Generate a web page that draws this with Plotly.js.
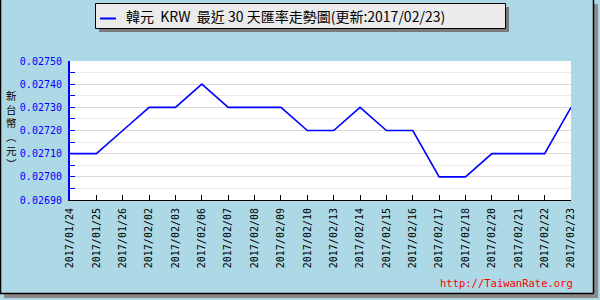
<!DOCTYPE html>
<html>
<head>
<meta charset="utf-8">
<script src="https://cdn.plot.ly/plotly-3.0.1.min.js"></script>
<style>html,body{margin:0;padding:0;background:#fff;}#chart{width:600px;height:300px;}</style>
</head>
<body>
<div id="chart"></div>
<script>
// ---- data ----
const dates = ["2017/01/24","2017/01/25","2017/01/26","2017/02/02","2017/02/03","2017/02/06","2017/02/07","2017/02/08","2017/02/09","2017/02/10","2017/02/13","2017/02/14","2017/02/15","2017/02/16","2017/02/17","2017/02/18","2017/02/20","2017/02/21","2017/02/22","2017/02/23"];
const rates = [0.02710,0.02710,0.02720,0.02730,0.02730,0.02740,0.02730,0.02730,0.02730,0.02720,0.02720,0.02730,0.02720,0.02720,0.02700,0.02700,0.02710,0.02710,0.02710,0.02730];
const seriesName = "韓元  KRW  最近 30 天匯率走勢圖(更新:2017/02/23)";
const yTitleChars = ["新","台","幣","︵","元","︶"];
const watermark = "http://TaiwanRate.org";

// ---- layout geometry (pixels) ----
const W = 600, H = 300, L = 70, R = 571, T = 61, B = 200;
const px = x => (x - L) / (R - L);
const py = y => (B - y) / (B - T);

const shapes = [
  // outer frame shadow
  {type:'rect', xref:'paper', yref:'paper', x0:px(4), x1:px(598), y0:py(294), y1:py(298), fillcolor:'#8a8a8a', line:{width:0}, layer:'below'},
  {type:'rect', xref:'paper', yref:'paper', x0:px(594), x1:px(598), y0:py(4), y1:py(298), fillcolor:'#8a8a8a', line:{width:0}, layer:'below'},
  // frame lines
  {type:'line', xref:'paper', yref:'paper', x0:px(0.5), x1:px(0.5), y0:py(0), y1:py(293.5), line:{color:'#000', width:1.5}},
  {type:'line', xref:'paper', yref:'paper', x0:px(0), x1:px(593.5), y0:py(293.5), y1:py(293.5), line:{color:'#000', width:1.5}},
  {type:'line', xref:'paper', yref:'paper', x0:px(593.5), x1:px(593.5), y0:py(0), y1:py(293.5), line:{color:'#000', width:1.5}},
  // legend shadow + box
  {type:'rect', xref:'paper', yref:'paper', x0:px(99), x1:px(509), y0:py(7), y1:py(32), fillcolor:'#7a7a7a', line:{width:0}},
  {type:'rect', xref:'paper', yref:'paper', x0:px(95.5), x1:px(505.5), y0:py(3.5), y1:py(28.5), fillcolor:'#ebebeb', line:{color:'#000', width:1}},
  // legend symbol
  {type:'line', xref:'paper', yref:'paper', x0:px(100), x1:px(116), y0:py(18.5), y1:py(18.5), line:{color:'#0000ff', width:2}}
];

const annotations = [
  {xref:'paper', yref:'paper', x:px(124), y:py(16), xanchor:'left', yanchor:'middle', showarrow:false,
   text: seriesName, font:{family:'Noto Sans CJK TC', size:14, color:'#000'}},
  {xref:'paper', yref:'paper', x:px(575), y:py(283), xanchor:'right', yanchor:'middle', showarrow:false,
   text: watermark, font:{family:'DejaVu Sans Mono', size:10.5, color:'#ff0000'}},
  // vertical y-axis title, one character per line
  {xref:'paper', yref:'paper', x:px(11), y:py(129), xanchor:'center', yanchor:'middle', showarrow:false,
   text: yTitleChars.join('<br>'), font:{family:'Noto Sans CJK TC', size:10.5, color:'#000'}}
];

const trace = {
  x: dates, y: rates, type:'scatter', mode:'lines', name: seriesName,
  line:{color:'#0000ff', width:1.6}, hoverinfo:'skip'
};

const layout = {
  width:W, height:H,
  margin:{l:L, r:W-R, t:T, b:H-B, pad:0},
  paper_bgcolor:'#add8e6', plot_bgcolor:'#ffffff',
  showlegend:false,
  xaxis:{
    type:'category', range:[0, dates.length-1], autorange:false,
    showline:true, linecolor:'#000', linewidth:1,
    ticks:'inside', ticklen:5, tickcolor:'#000', tickangle:-90,
    showgrid:false, zeroline:false,
    tickfont:{family:'DejaVu Sans Mono', size:10, color:'#000'},
    ticklabelstandoff:3
  },
  yaxis:{
    range:[0.0269, 0.0275], autorange:false, dtick:0.0001, tick0:0.0269,
    tickformat:'.5f',
    showline:true, linecolor:'#0000ff', linewidth:2,
    ticks:'inside', ticklen:5, tickcolor:'#0000ff',
    gridcolor:'#d9d9d9', gridwidth:1, zeroline:false,
    tickfont:{family:'DejaVu Sans Mono', size:10, color:'#0000ff'},
    ticklabelstandoff:4,
    minor:{dtick:0.00005, tick0:0.0269, showgrid:true, gridcolor:'#ececec', ticks:'inside', ticklen:5, tickcolor:'#0000ff'}
  },
  shapes: shapes,
  annotations: annotations
};

Plotly.newPlot('chart', [trace], layout, {staticPlot:true, displayModeBar:false});
</script>
</body>
</html>
